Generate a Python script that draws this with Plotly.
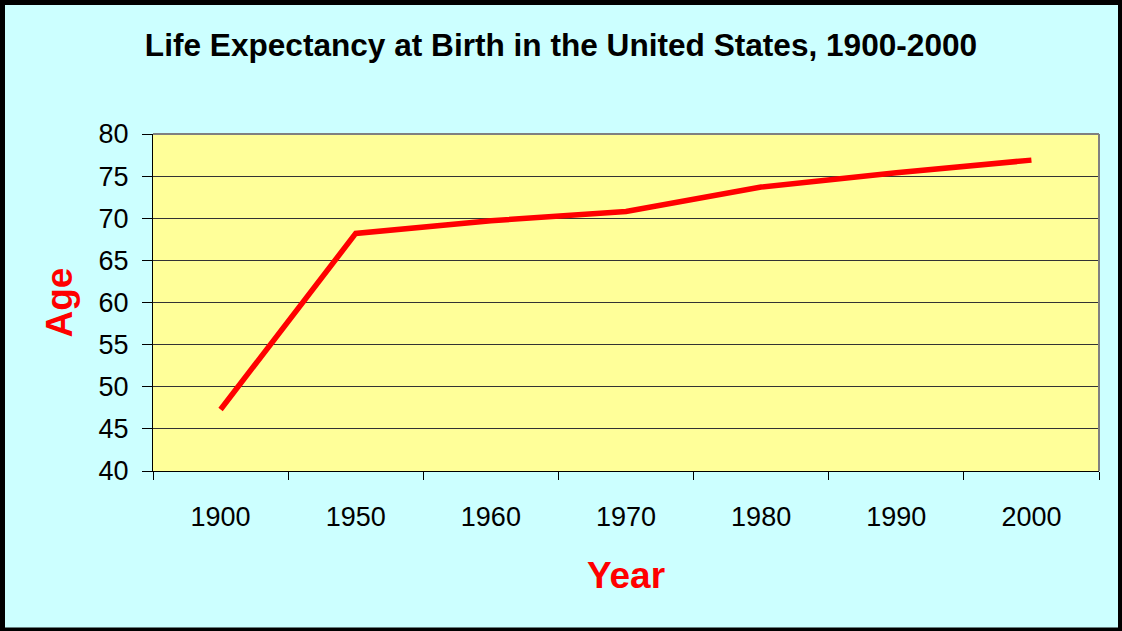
import plotly.graph_objects as go

years = ["1900", "1950", "1960", "1970", "1980", "1990", "2000"]
life_expectancy = [47.3, 68.2, 69.7, 70.8, 73.7, 75.4, 76.9]
y_ticks = [40, 45, 50, 55, 60, 65, 70, 75, 80]

W, H = 1122, 631
ML, MR, MT, MB = 153, 23, 134, 160
PW, PH = W - ML - MR, H - MT - MB

def px_x(p):
    return (p - ML) / PW

def px_y(p):
    return 1 - (p - MT) / PH

FONT = "Liberation Sans, Arial, sans-serif"

fig = go.Figure()
fig.add_trace(go.Scatter(
    x=years, y=life_expectancy, mode="lines",
    line=dict(color="#FF0000", width=5.5),
    hoverinfo="x+y", showlegend=False,
))

fig.update_layout(
    width=W, height=H,
    margin=dict(l=ML, r=MR, t=MT, b=MB),
    paper_bgcolor="#CCFFFF",
    plot_bgcolor="#FFFF99",
    font=dict(family=FONT, color="black"),
    title=dict(
        text="<b>Life Expectancy at Birth in the United States, 1900-2000</b>",
        font=dict(size=31.6, family=FONT, color="black"),
        x=0.5, xanchor="center", xref="container",
        y=1 - 45 / H, yanchor="middle", yref="container",
    ),
    xaxis=dict(
        type="category",
        tickson="boundaries",
        ticks="outside", ticklen=8, tickcolor="black", tickwidth=1,
        showline=True, linecolor="black", linewidth=1,
        showgrid=False, zeroline=False,
        tickfont=dict(size=27, family=FONT, color="black"),
        ticklabelstandoff=22,
        title=dict(text="<b>Year</b>", font=dict(size=37, family=FONT, color="#FF0000"), standoff=30),
        range=[-0.5, 6.5],
    ),
    yaxis=dict(
        range=[40, 80],
        tickvals=y_ticks,
        ticks="outside", ticklen=10, tickcolor="black", tickwidth=1,
        showline=True, linecolor="black", linewidth=1,
        showgrid=True, gridcolor="#333333", gridwidth=1,
        zeroline=False,
        tickfont=dict(size=27, family=FONT, color="black"),
        ticklabelstandoff=8,
        title=dict(text="<b>Age</b>", font=dict(size=37, family=FONT, color="#FF0000"), standoff=14),
    ),
    shapes=[
        dict(type="line", xref="paper", yref="paper", x0=0, x1=1, y0=1, y1=1,
             line=dict(color="#808080", width=2), layer="above"),
        dict(type="line", xref="paper", yref="paper", x0=1, x1=1, y0=0, y1=1,
             line=dict(color="#808080", width=2), layer="above"),
        dict(type="rect", xref="paper", yref="paper",
             x0=px_x(2), x1=px_x(W - 1), y0=px_y(H - 0.5), y1=px_y(2),
             line=dict(color="black", width=6), layer="above"),
    ],
)

fig.write_html("out.html", config={"displayModeBar": False},
               post_script="document.body.style.margin='0';")
